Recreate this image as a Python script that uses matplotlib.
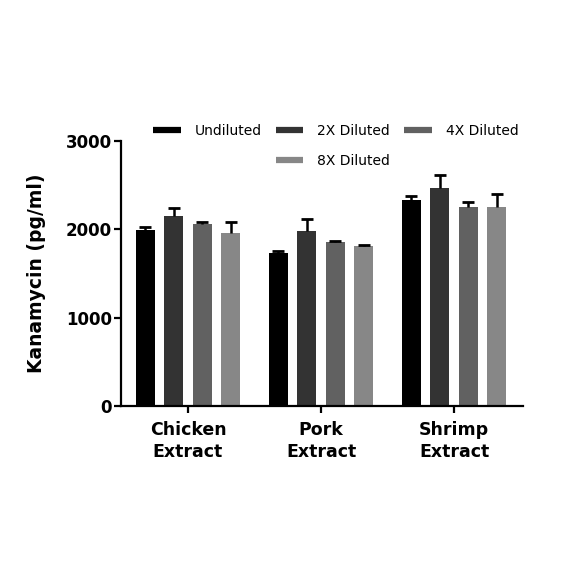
import numpy as np
import matplotlib
matplotlib.use('Agg')
import matplotlib.pyplot as plt
from matplotlib.lines import Line2D

groups = ['Chicken\nExtract', 'Pork\nExtract', 'Shrimp\nExtract']
series = ['Undiluted', '2X Diluted', '4X Diluted', '8X Diluted']
undiluted = [1985, 1735, 2335]
diluted_2x = [2145, 1980, 2465]
diluted_4x = [2055, 1855, 2255]
diluted_8x = [1955, 1808, 2255]
err_undiluted = [40, 12, 40]
err_2x = [95, 130, 145]
err_4x = [25, 15, 50]
err_8x = [120, 10, 140]

colors = ['#000000', '#333333', '#616161', '#878787']
values = [undiluted, diluted_2x, diluted_4x, diluted_8x]
errors = [err_undiluted, err_2x, err_4x, err_8x]

plt.rcParams['font.family'] = ['DejaVu Sans']

fig = plt.figure(figsize=(5.84, 5.84), dpi=100)
ax = fig.add_axes([0.208, 0.305, 0.688, 0.454])

x = np.arange(len(groups))
step = 0.214
width = 0.143
for i, (vals, errs, col) in enumerate(zip(values, errors, colors)):
    pos = x + (i - 1.5) * step
    ax.bar(pos, vals, width=width, color=col, zorder=2)
    eb = ax.errorbar(pos, vals, yerr=[np.zeros(len(errs)), errs], fmt='none',
                     ecolor='black', elinewidth=1.8, capsize=4.5, capthick=2, zorder=3)
    # only the upper cap, like the reference
    eb[1][0].set_visible(False)

ax.set_xlim(-0.5, 2.52)
ax.set_ylim(0, 3000)
ax.set_yticks([0, 1000, 2000, 3000])
ax.set_xticks(x)
ax.set_xticklabels(groups, fontsize=12.5, fontweight='bold', linespacing=1.3)
for lab in ax.get_yticklabels():
    lab.set_fontsize(12)
    lab.set_fontweight('bold')
ax.set_ylabel('Kanamycin (pg/ml)', fontsize=13.5, fontweight='bold', labelpad=14)

ax.spines['top'].set_visible(False)
ax.spines['right'].set_visible(False)
ax.spines['left'].set_linewidth(1.6)
ax.spines['bottom'].set_linewidth(1.6)
ax.tick_params(axis='both', width=1.6, length=5, direction='out', pad=2)
ax.tick_params(axis='x', pad=6)

handles = [Line2D([], [], color=c, lw=4.5, solid_capstyle='butt') for c in colors]
blank = Line2D([], [], color='none')
leg_handles = [handles[0], blank, handles[1], handles[3], handles[2]]
leg_labels = [series[0], '', series[1], series[3], series[2]]
fig.legend(leg_handles, leg_labels, loc='center', bbox_to_anchor=(0.575, 0.75),
           ncol=3, frameon=False, fontsize=10, handlelength=2.0,
           handletextpad=1.0, columnspacing=1.0, labelspacing=1.2)

fig.savefig('out.png', dpi=100, facecolor='white')
